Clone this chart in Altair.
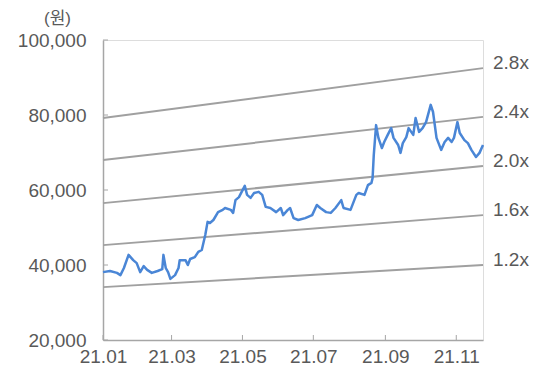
import altair as alt
import pandas as pd

# Stock price (원)
dates = [
    "2021-01-01", "2021-01-07", "2021-01-13", "2021-01-16", "2021-01-19", "2021-01-23",
    "2021-01-27", "2021-01-30", "2021-02-02", "2021-02-05", "2021-02-08", "2021-02-12",
    "2021-02-17", "2021-02-21", "2021-02-22", "2021-02-24", "2021-02-26", "2021-02-28",
    "2021-03-04", "2021-03-07", "2021-03-08", "2021-03-13", "2021-03-15", "2021-03-17",
    "2021-03-21", "2021-03-24", "2021-03-27", "2021-03-30", "2021-04-01", "2021-04-03",
    "2021-04-06", "2021-04-10", "2021-04-14", "2021-04-16", "2021-04-21", "2021-04-23",
    "2021-04-25", "2021-04-28", "2021-04-29", "2021-05-03", "2021-05-05", "2021-05-08",
    "2021-05-11", "2021-05-15", "2021-05-18", "2021-05-21", "2021-05-25", "2021-05-30",
    "2021-06-03", "2021-06-05", "2021-06-09", "2021-06-11", "2021-06-14", "2021-06-18",
    "2021-06-24", "2021-06-30", "2021-07-04", "2021-07-07", "2021-07-12", "2021-07-16",
    "2021-07-20", "2021-07-25", "2021-07-27", "2021-08-02", "2021-08-07", "2021-08-09",
    "2021-08-14", "2021-08-17", "2021-08-20", "2021-08-21", "2021-08-22", "2021-08-24",
    "2021-08-26", "2021-08-29", "2021-08-31", "2021-09-03", "2021-09-06", "2021-09-08",
    "2021-09-12", "2021-09-14", "2021-09-16", "2021-09-19", "2021-09-21", "2021-09-25",
    "2021-09-27", "2021-09-30", "2021-10-03", "2021-10-06", "2021-10-10", "2021-10-12",
    "2021-10-15", "2021-10-19", "2021-10-22", "2021-10-25", "2021-10-28", "2021-10-30",
    "2021-11-02", "2021-11-04", "2021-11-08", "2021-11-11", "2021-11-14", "2021-11-18",
    "2021-11-21", "2021-11-24",
]
prices = [
    38100, 38400, 37900, 37300, 39200, 42700,
    41300, 40500, 38100, 39700, 38700, 37900,
    38400, 38900, 42700, 39200, 38100, 36300,
    37300, 39200, 41300, 41300, 40000, 41600,
    42100, 43500, 44000, 48000, 51500, 51200,
    52000, 54100, 54700, 55200, 54700, 53900,
    57300, 58100, 58700, 61100, 58700, 57900,
    59200, 59500, 58700, 55500, 55200, 54100,
    55200, 53300, 54700, 55200, 52500, 52000,
    52500, 53300, 56000, 55200, 54100, 53900,
    55200, 57300, 55200, 54700, 58700, 59200,
    58700, 61300, 61900, 63200, 69300, 77300,
    73900, 71200, 72800, 74700, 76500, 73900,
    72000, 69900, 72500, 74100, 76500, 74700,
    79200, 75500, 76500, 78100, 82700, 80800,
    73900, 70700, 72800, 73900, 72800, 73900,
    78100, 75200, 73300, 72500, 70700, 68800,
    69900, 72000,
]

# PBR band lines (start / end values)
band_labels = ["2.8x", "2.4x", "2.0x", "1.6x", "1.2x"]
band_start = [79200, 68000, 56500, 45300, 34100]
band_end = [92500, 79500, 66400, 53300, 40000]
band_dates = ["2021-01-01", "2021-11-24"]

x_ticks = ["2021-01-01", "2021-03-01", "2021-05-01", "2021-07-01", "2021-09-01", "2021-11-01"]
y_ticks = [20000, 40000, 60000, 80000, 100000]

price_df = pd.DataFrame({"date": dates, "price": prices})
band_rows = []
for lab, s, e in zip(band_labels, band_start, band_end):
    band_rows.append({"date": band_dates[0], "value": s, "band": lab})
    band_rows.append({"date": band_dates[1], "value": e, "band": lab})
band_df = pd.DataFrame(band_rows)
label_df = pd.DataFrame({"date": [band_dates[1]] * len(band_labels),
                         "value": band_end, "band": band_labels})
xt_df = pd.DataFrame({"date": x_ticks})
yt_df = pd.DataFrame({"value": y_ticks})

FONT = "Liberation Sans, Noto Sans CJK KR"
GRAY_TXT = "#595959"
AXIS_COL = "#a6a6a6"

xscale = alt.Scale(domain=["2021-01-01", "2021-11-24"])
yscale = alt.Scale(domain=[20000, 100000], nice=False)

xaxis = alt.Axis(values=x_ticks, format="%y.%m", labelFontSize=19, labelColor=GRAY_TXT,
                 labelFont=FONT, domainColor=AXIS_COL, domainWidth=1.5, ticks=False,
                 grid=False, labelPadding=7, title=None, labelFlush=False)
yaxis = alt.Axis(values=y_ticks, format=",d", labelFontSize=19, labelColor=GRAY_TXT,
                 labelFont=FONT, domainColor=AXIS_COL, domainWidth=1.5, ticks=False,
                 grid=False, labelPadding=17, title="(원)", titleAngle=0,
                 titleFont=FONT, titleFontSize=17, titleFontWeight="normal",
                 titleColor=GRAY_TXT, titleAlign="center", titleBaseline="middle",
                 titleX=-46, titleY=-22)

bands = alt.Chart(band_df).mark_line(color="#a0a0a0", strokeWidth=2).encode(
    x=alt.X("date:T", scale=xscale, axis=xaxis),
    y=alt.Y("value:Q", scale=yscale, axis=yaxis),
    detail="band:N",
)

price = alt.Chart(price_df).mark_line(color="#4a86d6", strokeWidth=2.5,
                                      strokeJoin="round").encode(
    x=alt.X("date:T", scale=xscale),
    y=alt.Y("price:Q", scale=yscale),
)

labels = alt.Chart(label_df).mark_text(align="left", baseline="middle", dx=10, dy=-5,
                                       fontSize=19, font=FONT, color=GRAY_TXT).encode(
    x=alt.X("date:T", scale=xscale),
    y=alt.Y("value:Q", scale=yscale),
    text="band:N",
)

xticks = alt.Chart(xt_df).mark_rule(color=AXIS_COL, strokeWidth=1).encode(
    x=alt.X("date:T", scale=xscale),
    y=alt.value(300), y2=alt.value(295),
)
yticks = alt.Chart(yt_df).mark_rule(color=AXIS_COL, strokeWidth=1).encode(
    y=alt.Y("value:Q", scale=yscale),
    x=alt.value(0), x2=alt.value(5),
)

chart = alt.layer(xticks, yticks, bands, price, labels).properties(
    width=380, height=300,
    autosize=alt.AutoSizeParams(type="none"),
    padding={"left": 103, "top": 40, "right": 59, "bottom": 32},
).configure_view(stroke=None).configure(background="white")

chart.save("out.html", embed_options={"renderer": "svg", "actions": False})
